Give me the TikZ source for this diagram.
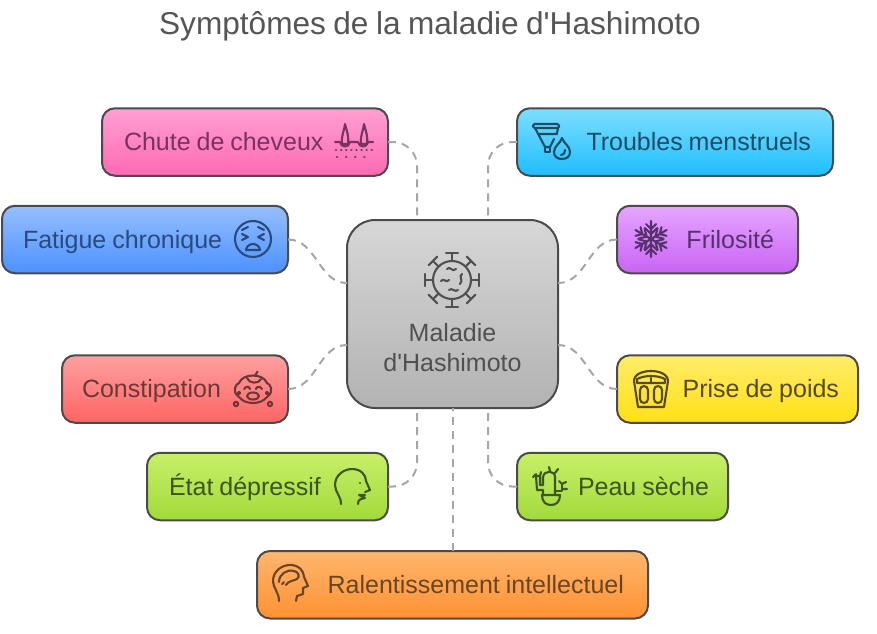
\documentclass[tikz,border=0pt]{standalone}
\usepackage{fontspec}
\setmainfont{Liberation Sans}[WordSpace=0.85]
\usetikzlibrary{shapes.geometric, arrows, positioning, calc}
\definecolor{pinkBoxFg}{RGB}{120, 50, 100}
\definecolor{pinkBoxTop}{RGB}{255, 160, 210}
\definecolor{pinkBoxBot}{RGB}{255, 105, 180}
\definecolor{blueBoxFg}{RGB}{40, 75, 125}
\definecolor{blueBoxTop}{RGB}{150, 190, 255}
\definecolor{blueBoxBot}{RGB}{75, 145, 255}
\definecolor{redBoxFg}{RGB}{110, 55, 55}
\definecolor{redBoxTop}{RGB}{255, 160, 160}
\definecolor{redBoxBot}{RGB}{255, 100, 100}
\definecolor{greenBoxFg}{RGB}{60, 85, 35}
\definecolor{greenBoxTop}{RGB}{198, 240, 105}
\definecolor{greenBoxBot}{RGB}{162, 218, 58}
\definecolor{orangeBoxFg}{RGB}{105, 70, 35}
\definecolor{orangeBoxTop}{RGB}{255, 182, 110}
\definecolor{orangeBoxBot}{RGB}{255, 145, 50}
\definecolor{cyanBoxFg}{RGB}{30, 75, 100}
\definecolor{cyanBoxTop}{RGB}{125, 222, 255}
\definecolor{cyanBoxBot}{RGB}{30, 190, 255}
\definecolor{purpleBoxFg}{RGB}{85, 50, 110}
\definecolor{purpleBoxTop}{RGB}{230, 165, 255}
\definecolor{purpleBoxBot}{RGB}{200, 100, 245}
\definecolor{yellowBoxFg}{RGB}{85, 75, 30}
\definecolor{yellowBoxTop}{RGB}{255, 236, 105}
\definecolor{yellowBoxBot}{RGB}{255, 224, 20}
\definecolor{greyBoxFg}{RGB}{80, 80, 80}
\definecolor{greyBoxTop}{RGB}{215, 215, 215}
\definecolor{greyBoxBot}{RGB}{178, 178, 178}
\tikzstyle{link} = [line width=2pt, draw={rgb,255:red,166;green,166;blue,166}, dash pattern=on 8pt off 6pt]
\tikzstyle{basic} = [rectangle, rounded corners=13pt, line width=2pt, draw={rgb,255:red,75;green,75;blue,75}, minimum height=67.5pt, outer sep=0pt, inner xsep=22pt, inner ysep=0pt, font=\fontsize{25}{30}\selectfont]
\tikzstyle{side} = [basic, text height=20.5pt, text depth=3.5pt]
\tikzstyle{pinkstyle} = [top color=pinkBoxTop, bottom color=pinkBoxBot, text=pinkBoxFg]
\tikzstyle{bluestyle} = [top color=blueBoxTop, bottom color=blueBoxBot, text=blueBoxFg]
\tikzstyle{redstyle} = [top color=redBoxTop, bottom color=redBoxBot, text=redBoxFg]
\tikzstyle{greenstyle} = [top color=greenBoxTop, bottom color=greenBoxBot, text=greenBoxFg]
\tikzstyle{orangestyle} = [top color=orangeBoxTop, bottom color=orangeBoxBot, text=orangeBoxFg]
\tikzstyle{cyanstyle} = [top color=cyanBoxTop, bottom color=cyanBoxBot, text=cyanBoxFg]
\tikzstyle{purplestyle} = [top color=purpleBoxTop, bottom color=purpleBoxBot, text=purpleBoxFg]
\tikzstyle{yellowstyle} = [top color=yellowBoxTop, bottom color=yellowBoxBot, text=yellowBoxFg]
\tikzstyle{greystyle} = [top color=greyBoxTop, bottom color=greyBoxBot, text=greyBoxFg]
\tikzstyle{icon} = [line width=2.1pt, line cap=round, line join=round]
\newcommand{\virusSpike}[1]{\draw[icon, rotate=#1] (19,0) -- (27,0) (27,-6) -- (27,6);}
\newcommand{\flakeArm}[1]{\draw[icon, rotate=#1] (0,0) -- (18,0) (5,0) -- (11,6) (5,0) -- (11,-6) (10,0) -- (15,5) (10,0) -- (15,-5);}
\tikzset{
  virusicon/.pic={
    \draw[icon] (0,0) circle (19);
    \virusSpike{0}\virusSpike{45}\virusSpike{90}\virusSpike{135}
    \virusSpike{180}\virusSpike{225}\virusSpike{270}\virusSpike{315}
    \draw[icon] (-5,11) .. controls (-2,15) and (0,7) .. (4,11) (-11,-1) .. controls (-8,3) and (-6,-4) .. (-3,0);
    \draw[icon] (10,6) .. controls (6,4) and (12,0) .. (8,-4) (-3,-10) .. controls (0,-7) and (3,-13) .. (6,-10);
  },
  hairicon/.pic={
    \draw[icon] (-19,-1) -- (-14,-1) .. controls (-13,-7) and (-5,-7) .. (-4,-1) -- (4,-1) .. controls (5,-7) and (13,-7) .. (14,-1) -- (19,-1);
    \draw[icon] (-9,17) .. controls (-7,9) and (-5,5) .. (-6,-3) -- (-12,-3) .. controls (-13,5) and (-10,9) .. (-9,17);
    \draw[icon] (10,17) .. controls (12,9) and (14,5) .. (13,-3) -- (7,-3) .. controls (6,5) and (9,9) .. (10,17);
    \draw[icon, line width=2.6pt, dash pattern=on 0.1pt off 5pt] (-18,-9) -- (19,-9);
    \draw[icon, line width=2.6pt, dash pattern=on 0.1pt off 9pt] (-17,-16) -- (19,-16);
  },
  tiredicon/.pic={
    \draw[icon] (0,0) circle (18);
    \draw[icon] (-11,9) -- (-5,12) (11,9) -- (5,12);
    \draw[icon] (-11,5) -- (-5,2) -- (-11,-1) (11,5) -- (5,2) -- (11,-1);
    \draw[icon] (-7,-11) .. controls (-6,-3) and (6,-3) .. (7,-11) -- cycle;
  },
  cryicon/.pic={
    \draw[icon] (-14,-7) .. controls (-22,-1) and (-17,6) .. (-14,7) .. controls (-10,17) and (10,17) .. (14,7) .. controls (17,6) and (22,-1) .. (14,-7) .. controls (8,-15) and (-8,-15) .. (-14,-7);
    \draw[icon] (-6,12) .. controls (-4,6) and (6,6) .. (8,11) (2,14) .. controls (5,20) and (5,18) .. (4,18);
    \draw[icon] (-9,1) .. controls (-7,4) and (-4,4) .. (-3,1) (9,1) .. controls (7,4) and (4,4) .. (3,1);
    \draw[icon] (0,-6) ellipse (6 and 3.5);
    \draw[icon] (-17,-14) circle (2.2) (17,-14) circle (2.2) (-14,-3) circle (1.2) (14,-3) circle (1.2);
  },
  headicon/.pic={
    \draw[icon] (-12,-17) .. controls (-12,-9) and (-18,-5) .. (-18,2) .. controls (-18,12) and (-9,18) .. (-1,18) .. controls (8,18) and (13,12) .. (13,6) -- (17,-3) -- (12,-5);
    \draw[icon] (7,4) -- (7.1,4);
    \draw[icon] (12,-8) -- (6,-8) -- (12,-11) .. controls (8,-12) and (5,-12) .. (5,-17);
  },
  cupicon/.pic={
    \draw[icon, rounded corners=1.5pt] (-15,18) -- (11,18) -- (11,14) -- (-15,14) -- cycle;
    \draw[icon] (-13,14) -- (-3,-5) -- (2,-5) -- (6,3) (10,14) -- (9,9) (-10,8) -- (9,8);
    \draw[icon] (-3,-5) -- (-3,-10) -- (2,-10) -- (2,-5);
    \draw[icon] (14,4) .. controls (16,-2) and (22,-4) .. (22,-10) .. controls (22,-15) and (18,-17) .. (14,-17) .. controls (10,-17) and (6,-15) .. (6,-10) .. controls (6,-4) and (12,-2) .. (14,4);
    \draw[icon] (13,-13) .. controls (16,-13) and (17,-11) .. (17,-8);
  },
  flakeicon/.pic={
    \flakeArm{30}\flakeArm{90}\flakeArm{150}
    \flakeArm{210}\flakeArm{270}\flakeArm{330}
  },
  scaleicon/.pic={
    \draw[icon] (-13,-18) -- (13,-18) -- (17,8) .. controls (17,15) and (8,18) .. (0,18) .. controls (-8,18) and (-17,15) .. (-17,8) -- cycle;
    \draw[icon] (-14,6) -- (14,6) -- (14,10) .. controls (6,14) and (-6,14) .. (-14,10) -- cycle;
    \draw[icon] (0,6) -- (0,11);
    \draw[icon, rounded corners=4pt] (-11,3) rectangle (-3,-14);
    \draw[icon, rounded corners=4pt] (3,3) rectangle (11,-14);
  },
  cactusicon/.pic={
    \draw[icon] (-8,-8) -- (10,-8) .. controls (10,-15) and (6,-18) .. (1,-18) .. controls (-4,-18) and (-8,-15) .. (-8,-8) -- cycle;
    \draw[icon] (-7,-8) -- (-7,-3) -- (-13,-3) -- (-14,11) -- (-10,11) -- (-10,2) -- (-7,2) -- (-7,10) .. controls (-6,17) and (5,17) .. (5,10) -- (5,-8);
    \draw[icon] (5,-4) -- (12,-4) -- (12,3);
    \draw[icon] (-17,10) -- (-14,13) (-10,11) -- (-9,15) (0,16) -- (-1,20) (5,14) -- (8,18) (12,3) -- (9,6) (12,3) -- (16,5) (12,-2) -- (17,-2);
  },
  brainicon/.pic={
    \draw[icon] (-12,-18) .. controls (-12,-9) and (-18,-5) .. (-18,2) .. controls (-18,12) and (-9,18) .. (-1,18) .. controls (8,18) and (13,12) .. (13,6) -- (17,-3) -- (12,-5) -- (12,-11) -- (6,-13) -- (5,-18);
    \draw[icon] (-12,1) .. controls (-12,9) and (-4,14) .. (3,12) .. controls (8,11) and (9,6) .. (6,4);
    \draw[icon] (6,4) .. controls (2,2) and (-3,2) .. (-5,-2);
    \draw[icon] (-9,-1) -- (-7,1);
  }
}
\begin{document}
\begin{tikzpicture}[x=1pt, y=1pt]
\useasboundingbox (0,0) rectangle (877,-633);

\node (title) [anchor=center, text={rgb,255:red,85;green,85;blue,85}, font=\fontsize{31.6}{36}\selectfont] at (430,-26) {Symptômes de la maladie d\textquotesingle Hashimoto};

\node (hub) [basic, greystyle, rounded corners=28pt, minimum width=211pt, minimum height=188pt, align=flush center] at (452.5,-314) {\rule{0pt}{56pt}\\Maladie\\d\textquotesingle Hashimoto};

\node (chute) [side, pinkstyle, text width=242pt, align=flush left, anchor=east, xshift=41pt, yshift=78pt] at(hub.north west) {Chute de cheveux};
\node (fatigue) [side, bluestyle, inner xsep=21pt, text width=244pt, align=flush left, anchor=east, xshift=-59pt, yshift=74.5pt] at(hub.west) {Fatigue chronique};
\node (constipation) [side, redstyle, inner xsep=20pt, text width=186pt, align=flush left, anchor=east, xshift=-59pt, yshift=-75pt] at(hub.west) {Constipation};
\node (etat) [side, greenstyle, text width=197pt, align=flush left, anchor=east, xshift=41pt, yshift=-78.5pt] at(hub.south west) {État dépressif};
\node (ralent) [side, orangestyle, inner xsep=24pt, text width=343pt, align=flush right, anchor=north, yshift=-143pt] at(hub.south) {Ralentissement intellectuel};
\node (troubles) [side, cyanstyle, text width=272pt, align=flush right, anchor=west, xshift=-41pt, yshift=78pt] at(hub.north east) {Troubles menstruels};
\node (frilosite) [side, purplestyle, inner xsep=24pt, text width=133pt, align=flush right, anchor=west, xshift=59pt, yshift=74.5pt] at(hub.east) {Frilosité};
\node (prise) [side, yellowstyle, inner xsep=19pt, text width=203pt, align=flush right, anchor=west, xshift=59pt, yshift=-75pt] at(hub.east) {Prise de poids};
\node (peau) [side, greenstyle, inner xsep=19pt, text width=173pt, align=flush right, anchor=west, xshift=-41pt, yshift=-78.5pt] at(hub.south east) {Peau sèche};

\draw [link, rounded corners=24pt] (chute.east) -| ($(hub.north)+(-35.5,0)$);
\draw [link, rounded corners=24pt] (troubles.west) -| ($(hub.north)+(35.5,0)$);
\draw [link] (fatigue.east) to[out=0, in=180] ($(hub.west)+(0,31)$);
\draw [link] (frilosite.west) to[out=180, in=0] ($(hub.east)+(0,31)$);
\draw [link] (constipation.east) to[out=0, in=180] ($(hub.west)+(0,-31)$);
\draw [link] (prise.west) to[out=180, in=0] ($(hub.east)+(0,-31)$);
\draw [link, rounded corners=24pt] (etat.east) -| ($(hub.south)+(-35.5,0)$);
\draw [link, rounded corners=24pt] (peau.west) -| ($(hub.south)+(35.5,0)$);
\draw [link] (ralent.north) -- (hub.south);

\pic (virus) [color=greyBoxFg] at (452,-280) {virusicon};
\pic (hair) [color=pinkBoxFg] at (354,-141) {hairicon};
\pic (tired) [color=blueBoxFg] at (253,-239) {tiredicon};
\pic (cry) [color=redBoxFg] at (253,-390) {cryicon};
\pic (head) [color=greenBoxFg] at (353,-487) {headicon};
\pic (brain) [color=orangeBoxFg] at (291,-583) {brainicon};
\pic (cup) [color=cyanBoxFg] at (548,-142) {cupicon};
\pic (flake) [color=purpleBoxFg] at (651,-239) {flakeicon};
\pic (scale) [color=yellowBoxFg] at (651,-389) {scaleicon};
\pic (cactus) [color=greenBoxFg] at (550,-487) {cactusicon};

\end{tikzpicture}
\end{document}
